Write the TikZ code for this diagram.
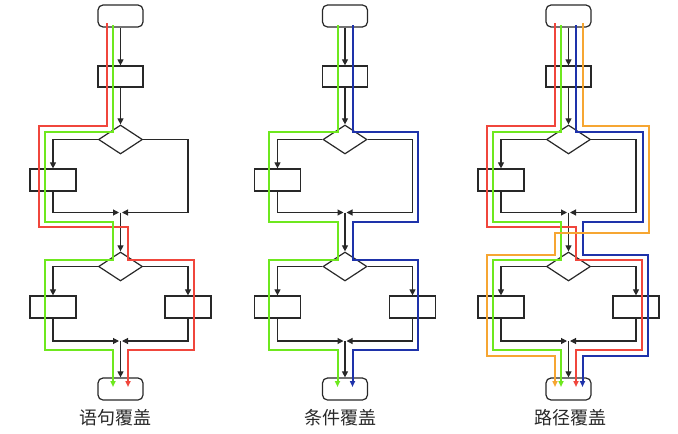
\documentclass[tikz,border=0pt]{standalone}
\usepackage{fontspec}
\newfontfamily\cjk{Noto Sans CJK SC}
\usetikzlibrary{shapes.geometric,arrows.meta}
\definecolor{cred}{RGB}{240,70,60}
\definecolor{cgreen}{RGB}{110,232,30}
\definecolor{cblue}{RGB}{30,50,170}
\definecolor{corange}{RGB}{246,166,50}
\definecolor{ink}{RGB}{40,40,40}
\tikzset{
  term/.style={draw=ink,line width=1.2pt,rounded corners=5pt,minimum width=45pt,minimum height=22pt,inner sep=0pt},
  proc/.style={draw=ink,line width=1.2pt,minimum width=45pt,minimum height=21pt,inner sep=0pt},
  side/.style={draw=ink,line width=1.2pt,minimum width=46pt,minimum height=22pt,inner sep=0pt},
  dec/.style={draw=ink,line width=1.2pt,diamond,minimum width=44pt,minimum height=29pt,inner sep=0pt},
  arr/.style={draw=ink,line width=1.1pt,-{Triangle[length=6pt,width=6pt]}},
  cov/.style={line width=2pt,-{Triangle[length=6pt,width=5pt]}},
  lbl/.style={font=\cjk\fontsize{18}{20}\selectfont,text=ink,inner sep=0pt}
}
\newcommand\flowchart[2]{%
\begin{scope}[shift={(#2,0)}]
  \node[term] (s#1) at (0,16) {};
  \node[proc] (p#1) at (0,76.5) {};
  \node[dec] (d#1) at (0,139.5) {};
  \node[side] (a#1) at (-67.5,180) {};
  \coordinate (m#1) at (0,212.5);
  \coordinate (ml#1) at (-1.5,212.5);
  \coordinate (mr#1) at (1.5,212.5);
  \coordinate (q#1) at (67.5,212.5);
  \node[dec] (e#1) at (0,266.5) {};
  \node[side] (b#1) at (-67.5,307) {};
  \node[side] (c#1) at (67.5,307) {};
  \coordinate (n#1) at (0,341);
  \coordinate (nl#1) at (-1.5,341);
  \coordinate (nr#1) at (1.5,341);
  \node[term] (f#1) at (0,389) {};
  \draw[arr] (s#1) -- (p#1);
  \draw[arr] (p#1) -- (d#1);
  \draw[arr] (d#1.west) -| (a#1.north);
  \draw[arr] (a#1.south) |- (ml#1);
  \draw[arr] (d#1.east) -| (q#1) -- (mr#1);
  \draw[arr] (m#1) -- (e#1);
  \draw[arr] (e#1.west) -| (b#1.north);
  \draw[arr] (e#1.east) -| (c#1.north);
  \draw[arr] (b#1.south) |- (nl#1);
  \draw[arr] (c#1.south) |- (nr#1);
  \draw[arr] (n#1) -- (f#1);
\end{scope}}
\begin{document}
\begin{tikzpicture}[x=1pt,y=-1pt]
\useasboundingbox (0,0) rectangle (678,434);
\flowchart{1}{120.5}
\flowchart{2}{345}
\flowchart{3}{568.5}
% chart 1 : statement coverage
\begin{scope}[shift={(120.5,0)}]
  \draw[cov,cred] (-13.5,23) -- (-13.5,126) -- (-82,126) -- (-82,227) -- (7.5,227) -- (7.5,260) -- (73,260) -- (73,350) -- (7.5,350) -- (7.5,387);
  \draw[cov,cgreen] (-7.5,25) -- (-7.5,132) -- (-76,132) -- (-76,221.5) -- (-7.5,221.5) -- (-7.5,260) -- (-76,260) -- (-76,350) -- (-7.5,350) -- (-7.5,387);
\end{scope}
% chart 2 : condition coverage
\begin{scope}[shift={(345,0)}]
  \draw[cov,cgreen] (-7.5,25) -- (-7.5,132) -- (-76,132) -- (-76,221.5) -- (-7.5,221.5) -- (-7.5,260) -- (-76,260) -- (-76,350) -- (-7.5,350) -- (-7.5,387);
  \draw[cov,cblue] (7.5,25) -- (7.5,132) -- (73,132) -- (73,221.5) -- (7.5,221.5) -- (7.5,260) -- (73,260) -- (73,350) -- (7.5,350) -- (7.5,387);
\end{scope}
% chart 3 : path coverage
\begin{scope}[shift={(568.5,0)}]
  \draw[cov,cred] (-13.5,23) -- (-13.5,126) -- (-82,126) -- (-82,227) -- (7.5,227) -- (7.5,260) -- (73,260) -- (73,350) -- (7.5,350) -- (7.5,387);
  \draw[cov,cgreen] (-7.5,25) -- (-7.5,132) -- (-76,132) -- (-76,221.5) -- (-7.5,221.5) -- (-7.5,260) -- (-76,260) -- (-76,350) -- (-7.5,350) -- (-7.5,387);
  \draw[cov,cblue] (7.5,25) -- (7.5,132) -- (74,132) -- (74,221.5) -- (14,221.5) -- (14,254.5) -- (79.5,254.5) -- (79.5,355.5) -- (14,355.5) -- (14,387);
  \draw[cov,corange] (14,23) -- (14,126) -- (80,126) -- (80,232.5) -- (-14,232.5) -- (-14,254.5) -- (-82,254.5) -- (-82,355.5) -- (-13.5,355.5) -- (-13.5,387);
\end{scope}
\node[lbl] (l1) at (115,418) {语句覆盖};
\node[lbl] (l2) at (340,418) {条件覆盖};
\node[lbl] (l3) at (570,418) {路径覆盖};
\end{tikzpicture}
\end{document}
